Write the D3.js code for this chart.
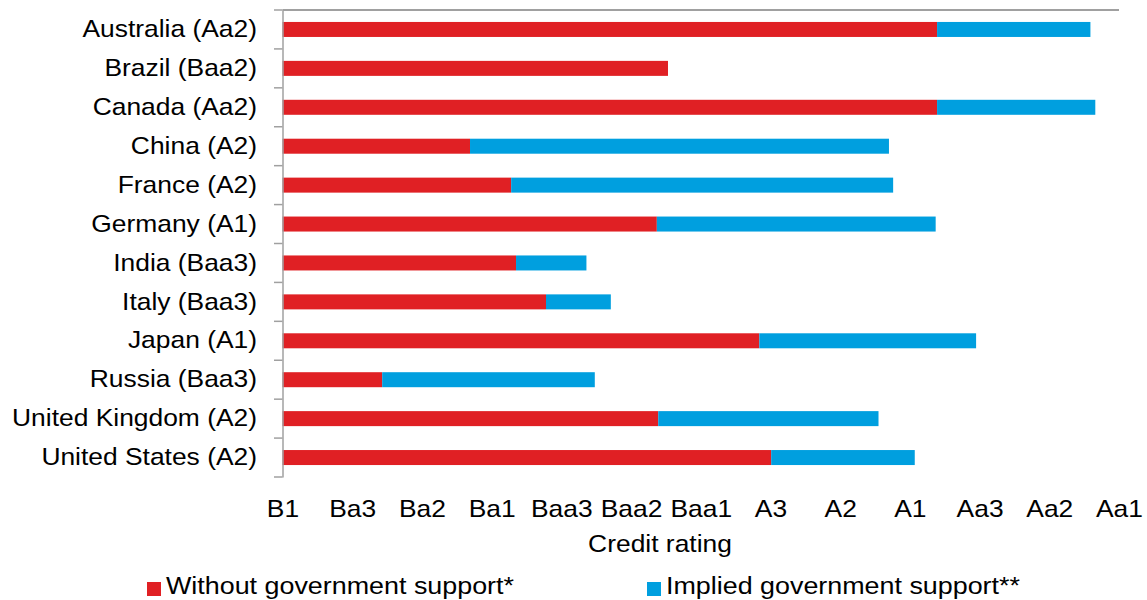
<!DOCTYPE html>
<html>
<head>
<meta charset="utf-8">
<script src="https://cdn.jsdelivr.net/npm/d3@7"></script>
<style>
  body { margin: 0; background: #fff; }
  text { font-family: Arial, "Liberation Sans", sans-serif; fill: #000; }
</style>
</head>
<body>
<div class="my_div"></div>
<script>
// Countries (top to bottom) and the rating scale
var countries = ["Australia (Aa2)", "Brazil (Baa2)", "Canada (Aa2)", "China (A2)", "France (A2)",
    "Germany (A1)", "India (Baa3)", "Italy (Baa3)", "Japan (A1)", "Russia (Baa3)",
    "United Kingdom (A2)", "United States (A2)"];
var ratings = ["B1", "Ba3", "Ba2", "Ba1", "Baa3", "Baa2", "Baa1", "A3", "A2", "A1", "Aa3", "Aa2", "Aa1"];

// Notches above B1 without support, and extra notches from implied support
var withoutSupport = [9.39, 5.53, 9.39, 2.69, 3.28, 5.37, 3.35, 3.78, 6.84, 1.43, 5.39, 7.01];
var impliedSupport = [2.20, 0, 2.27, 6.01, 5.48, 4.00, 1.01, 0.93, 3.11, 3.05, 3.16, 2.06];

var seriesNames = ["Without government support*", "Implied government support**"];
var colors = ["#e02024", "#009fdf"];

var width = 1147,
    height = 600;

var x0 = 282.5, x1 = 1119,
    y0 = 10, y1 = 477,
    barH = 15;

// The text in the picture is a bit wider than plain Arial
var fs = "24px", sx = 1.1;

var xScale = d3.scaleLinear()
    .domain([0, ratings.length - 1])
    .range([x0, x1]);

var yScale = d3.scaleBand()
    .domain(countries)
    .range([y0, y1]);

var svg = d3.select(".my_div")
    .append("svg")
    .attr("width", width)
    .attr("height", height)

// Stack the two series
var rows = countries.map((c, i) => {
    return { name: c, a: withoutSupport[i], b: impliedSupport[i] }
})
var stacked = d3.stack().keys(["a", "b"])(rows)

svg.selectAll("g.series")
    .data(stacked)
    .enter()
    .append("g")
    .attr("class", "series")
    .attr("fill", (d, i) => { return colors[i] })
    .selectAll("rect")
    .data((d) => { return d })
    .enter()
    .append("rect")
    .attr("x", (d) => { return xScale(d[0]) })
    .attr("width", (d) => { return xScale(d[1]) - xScale(d[0]) })
    .attr("y", (d) => { return yScale(d.data.name) + (yScale.bandwidth() - barH) / 2 })
    .attr("height", barH)

// Category axis: labels at band centres, ticks at band edges
var yAxis = svg.append("g")
    .attr("transform", "translate(" + x0 + ",0)")
    .call(d3.axisLeft(yScale).tickSize(0))
yAxis.select(".domain").attr("stroke", "#a0a0a0").attr("stroke-width", 1.5)
yAxis.selectAll("text")
    .attr("font-size", fs)
    .attr("font-family", "Arial, 'Liberation Sans', sans-serif")
    .attr("x", -25.5 / sx)
    .attr("transform", "scale(" + sx + ",1)")

var edges = countries.map((c) => { return yScale(c) }).concat([y1])
svg.selectAll("line.ytick")
    .data(edges)
    .enter()
    .append("line")
    .attr("class", "ytick")
    .attr("x1", x0 - 8.5)
    .attr("x2", x0)
    .attr("y1", (d) => { return d })
    .attr("y2", (d) => { return d })
    .attr("stroke", "#a0a0a0")
    .attr("stroke-width", 1.5)

// Value axis line sits at the top (categories reversed), labels at the bottom
svg.append("line")
    .attr("x1", x0)
    .attr("x2", x1)
    .attr("y1", y0)
    .attr("y2", y0)
    .attr("stroke", "#a0a0a0")
    .attr("stroke-width", 2)

var xAxis = svg.append("g")
    .attr("transform", "translate(0," + y1 + ")")
    .call(d3.axisBottom(xScale)
        .tickValues(d3.range(ratings.length))
        .tickFormat((d) => { return ratings[d] })
        .tickSize(0)
        .tickPadding(23))
xAxis.select(".domain").remove()
xAxis.selectAll("text")
    .attr("font-size", fs)
    .attr("font-family", "Arial, 'Liberation Sans', sans-serif")
    .attr("transform", "scale(" + sx + ",1)")

svg.append("text")
    .text("Credit rating")
    .attr("transform", "translate(660,552) scale(" + sx + ",1)")
    .attr("text-anchor", "middle")
    .attr("font-size", fs)

// Legend
var legendX = [147, 647]
var legend = svg.selectAll("g.legend")
    .data(seriesNames)
    .enter()
    .append("g")
    .attr("class", "legend")
    .attr("transform", (d, i) => { return "translate(" + legendX[i] + ",582)" })

legend.append("rect")
    .attr("width", 14)
    .attr("height", 14)
    .attr("fill", (d, i) => { return colors[i] })

legend.append("text")
    .text((d) => { return d })
    .attr("transform", "translate(19,12) scale(1.12,1)")
    .attr("font-size", fs)
</script>
</body>
</html>
